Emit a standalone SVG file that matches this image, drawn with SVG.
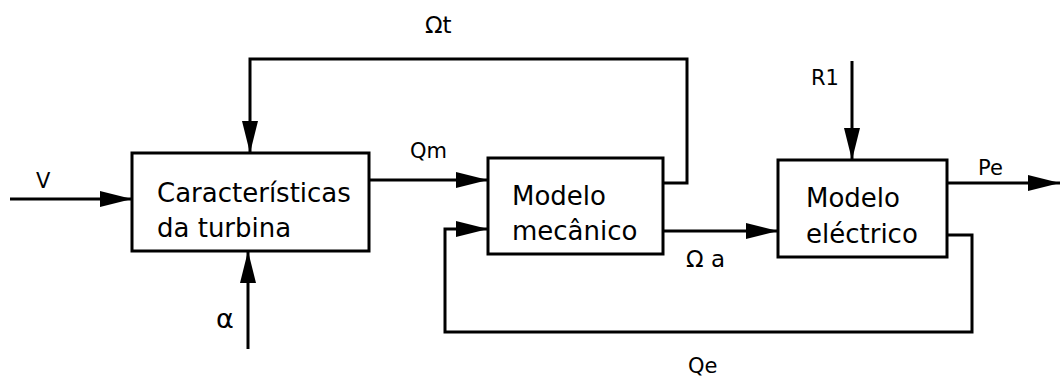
<svg xmlns="http://www.w3.org/2000/svg" width="1060" height="377" viewBox="0 0 1060 377">
<style>
.box{fill:#fff;stroke:#000;stroke-width:3}
.c{fill:none;stroke:#000;stroke-width:3}
.bt{font-family:"DejaVu Sans",sans-serif;font-size:26px;fill:#000}
.lb{font-family:"DejaVu Sans",sans-serif;font-size:21px;fill:#000}
.lg{font-size:23px}
.al{font-size:27px}
</style>
<defs>
<marker id="ah" markerUnits="userSpaceOnUse" markerWidth="32" markerHeight="16" refX="32" refY="8" orient="auto">
<path d="M0,0 L32,8 L0,16 z" fill="#000"/>
</marker>
</defs>
<rect width="1060" height="377" fill="#fff"/>
<g id="connectors">
<path class="c" d="M10,199 H132" marker-end="url(#ah)"/>
<path class="c" d="M248,349 V251" marker-end="url(#ah)"/>
<path class="c" d="M663,183 H687 V59 H250 V153" marker-end="url(#ah)"/>
<path class="c" d="M369,180 H488" marker-end="url(#ah)"/>
<path class="c" d="M663,231 H778" marker-end="url(#ah)"/>
<path class="c" d="M947,235 H972 V332 H445 V229 H488" marker-end="url(#ah)"/>
<path class="c" d="M852,61 V160" marker-end="url(#ah)"/>
<path class="c" d="M947,183 H1060" marker-end="url(#ah)"/>
</g>
<g id="labels">
<text class="lb lg" x="425" y="33">Ωt</text>
<text class="lb" x="410" y="158">Qm</text>
<text class="lb" x="36" y="188">V</text>
<text class="lb al" x="216" y="328">α</text>
<text class="lb lg" x="686" y="267">Ω a</text>
<text class="lb" x="688" y="373">Qe</text>
<text class="lb" x="811" y="85">R1</text>
<text class="lb" x="978" y="175">Pe</text>
</g>
<g id="turbina">
<rect class="box" x="132" y="153" width="237" height="98"/>
<text class="bt" x="157" y="202">Características</text>
<text class="bt" x="157" y="237">da turbina</text>
</g>
<g id="mecanico">
<rect class="box" x="488" y="158" width="175" height="96"/>
<text class="bt" x="512" y="205">Modelo</text>
<text class="bt" x="512" y="240">mecânico</text>
</g>
<g id="electrico">
<rect class="box" x="778" y="160" width="169" height="97"/>
<text class="bt" x="806" y="207">Modelo</text>
<text class="bt" x="806" y="243">eléctrico</text>
</g>
</svg>
